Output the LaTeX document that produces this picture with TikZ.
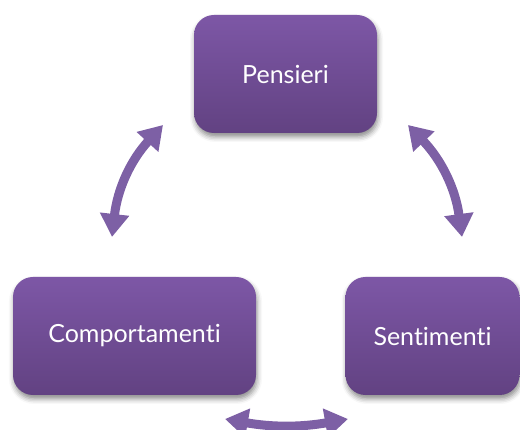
\documentclass[tikz,border=0pt]{standalone}
\usepackage{fontspec}
\setsansfont{Lato}[Ligatures={NoCommon,NoRare}]
\usetikzlibrary{arrows.meta,shadows.blur}
\definecolor{boxtop}{RGB}{125,87,166}
\definecolor{boxbot}{RGB}{98,66,130}
\definecolor{arrowcol}{RGB}{125,96,165}
\begin{document}
\begin{tikzpicture}[
  x=1pt, y=1pt,
  block/.style={rectangle, rounded corners=20pt, minimum height=118pt, top color=boxtop, bottom color=boxbot, draw=none, text=white, font=\sffamily\fontsize{25}{30}\selectfont, blur shadow={shadow xshift=1pt, shadow yshift=-4pt, shadow blur radius=5pt, shadow opacity=45}},
  cycle/.style={draw=arrowcol, line width=9pt, {Triangle[width=28pt,length=23pt]}-{Triangle[width=28pt,length=23pt]}}
]
\useasboundingbox (0,0) rectangle (520,430);
\node[block, minimum width=183pt] (pens) at (285.5,356) {Pensieri};
\node[block, minimum width=243pt] (comp) at (134.5,94) {Comportamenti};
\node[block, minimum width=174pt] (sent) at (432.5,94) {Sentimenti};

% Arrow ends
\coordinate (pc) at (163,305);
\coordinate (cp) at (112,193);
\coordinate (ps) at (408,305);
\coordinate (sp) at (462,193);
\coordinate (cs) at (225,11);
\coordinate (sc) at (348,11);

% Arrows
\draw[cycle] (pc) to[bend right=18] (cp);
\draw[cycle] (ps) to[bend left=18] (sp);
\draw[cycle] (cs) to[bend right=10] (sc);
\end{tikzpicture}
\end{document}
